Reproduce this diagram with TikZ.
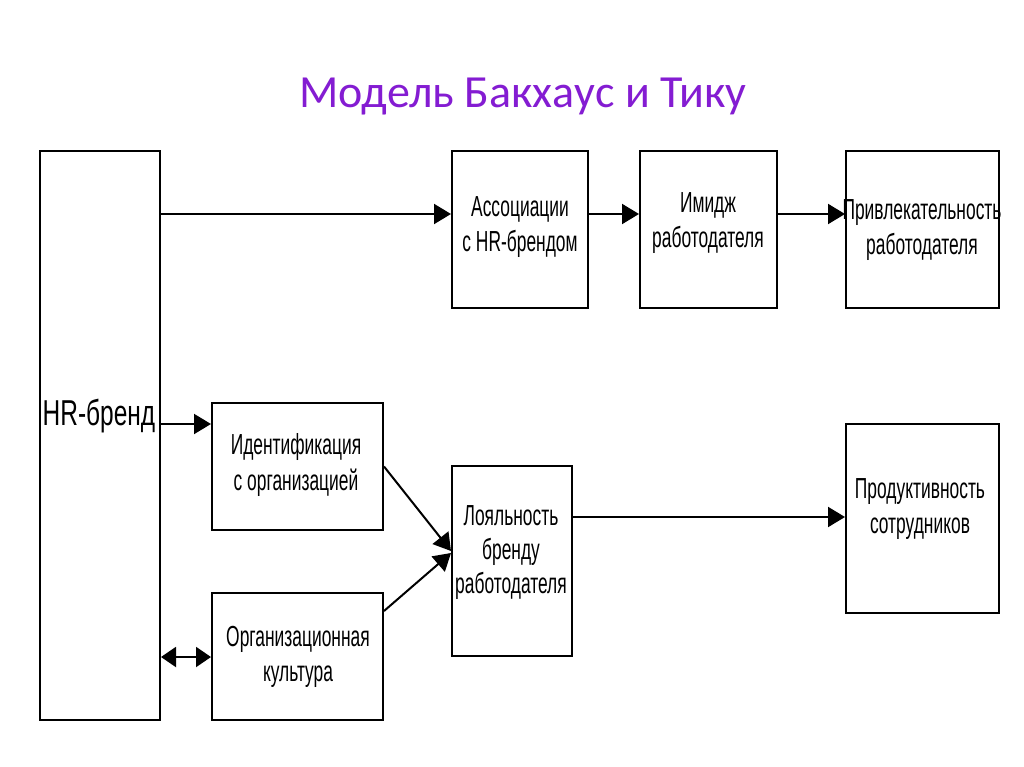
\documentclass[tikz,border=0pt]{standalone}
\usepackage{fontspec}
\setmainfont{Liberation Sans}
\newfontfamily\narrowfont[FakeStretch=0.6]{Liberation Sans}
\newfontfamily\hrfont[FakeStretch=0.68]{Liberation Sans}
\newfontfamily\titlefont{Carlito}
\usetikzlibrary{arrows.meta}
\definecolor{titlepurple}{RGB}{132,28,210}
\tikzset{
  box/.style={draw=black, line width=2pt, inner sep=0pt, fill=white},
  txt/.style={align=center, inner sep=0pt, font=\narrowfont\fontsize{29}{35.5}\selectfont},
  arr/.style={line width=2pt, -{Triangle[length=17pt,width=20pt]}},
  darr/.style={line width=2pt, {Triangle[length=15pt,width=20pt]}-{Triangle[length=15pt,width=20pt]}}
}
\begin{document}
\begin{tikzpicture}[x=1pt,y=-1pt]
\useasboundingbox[fill=white] (0,0) rectangle (1024,767);
% title
\node[font=\titlefont\fontsize{46}{50}\selectfont, text=titlepurple, anchor=base] (title) at (523,108) {Модель Бакхаус и Тику};
% boxes
\node[box, minimum width=120pt, minimum height=569pt] (hr) at (100,435.5) {};
\node[box, minimum width=136pt, minimum height=157pt] (assoc) at (520,229.5) {};
\node[box, minimum width=137pt, minimum height=157pt] (image) at (708.5,229.5) {};
\node[box, minimum width=153pt, minimum height=157pt] (attr) at (922.5,229.5) {};
\node[box, minimum width=171pt, minimum height=127pt] (ident) at (297.5,466.5) {};
\node[box, minimum width=171pt, minimum height=127pt] (cult) at (297.5,656.5) {};
\node[box, minimum width=120pt, minimum height=190pt] (loyal) at (512,561) {};
\node[box, minimum width=153pt, minimum height=189pt] (prod) at (922.5,518.5) {};
% texts
\node[inner sep=0pt, font=\hrfont\fontsize{36}{40}\selectfont] (hrtxt) at (99,416) {HR-бренд};
\node[txt] (assoctxt) at (520,227) {Ассоциации\\с HR-брендом};
\node[txt] (imagetxt) at (708,223) {Имидж\\работодателя};
\node[txt] (attrtxt) at (922,230) {Привлекательность\\работодателя};
\node[txt] (identtxt) at (296,465) {Идентификация\\с организацией};
\node[txt] (culttxt) at (298,657) {Организационная\\культура};
\node[txt, font=\narrowfont\fontsize{29}{34}\selectfont] (loyaltxt) at (511,553) {Лояльность\\бренду\\работодателя};
\node[txt] (prodtxt) at (920,509) {Продуктивность\\сотрудников};
% connectors
\draw[arr] (hr.east |- 0,214) -- (assoc.west |- 0,214);
\draw[arr] (assoc.east |- 0,214) -- (image.west |- 0,214);
\draw[arr] (image.east |- 0,214) -- (attr.west |- 0,214);
\draw[arr] (hr.east |- 0,424) -- (ident.west |- 0,424);
\draw[darr] (hr.east |- 0,657) -- (cult.west |- 0,657);
\draw[arr] (ident.east) -- (loyal.west |- 0,551);
\draw[arr] (cult.east |- 0,611) -- (loyal.west |- 0,553);
\draw[arr] (loyal.east |- 0,517) -- (prod.west |- 0,517);
\end{tikzpicture}
\end{document}
